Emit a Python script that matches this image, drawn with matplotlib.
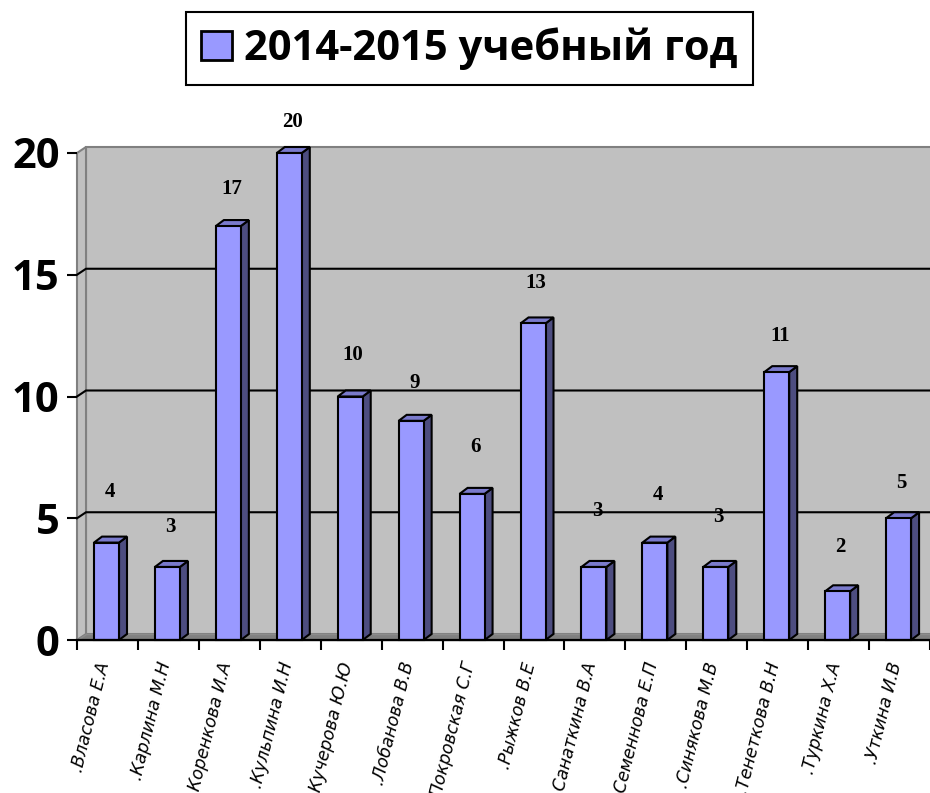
import matplotlib
matplotlib.use("Agg")
import matplotlib.pyplot as plt
from matplotlib.patches import Polygon, Patch

names = [".Власова Е.А", ".Карлина М.Н", ".Коренкова И.А", ".Кульпина И.Н", ".Кучерова Ю.Ю",
         ".Лобанова В.В", ".Покровская С.Г", ".Рыжков В.Е", ".Санаткина В.А", ".Семеннова Е.П",
         ".Синякова М.В", ".Тенеткова В.Н", ".Туркина Х.А", ".Уткина И.В"]
values = [4, 3, 17, 20, 10, 9, 6, 13, 3, 4, 3, 11, 2, 5]
# how far above the bar each label sits, in pixels
label_gap = [51, 40, 37, 31, 42, 38, 47, 40, 56, 48, 50, 36, 44, 35]
yticks = [0, 5, 10, 15, 20]
legend_name = "2014-2015 учебный год"

W, H = 930, 793
fig = plt.figure(figsize=(W / 100, H / 100), dpi=100)
ax = fig.add_axes([77 / W, (H - 640) / H, (W - 77) / W, 487 / H])
n = len(names)
ax.set_xlim(0, n)
ax.set_ylim(0, 20)

px_x = n / (W - 77)
px_y = 20 / 487
wall_dx = 9 * px_x
wall_dy = 6 * px_y
bar_dx = 8 * px_x
bar_dy = 6 * px_y
right = n + 1

wall_grey = "#C0C0C0"
dark_grey = "#808080"
front = "#9999FF"
side = "#4D4D80"
top = "#7A7ACC"

for s in ax.spines.values():
    s.set_visible(False)
ax.patch.set_visible(False)

# walls and floor
ax.add_patch(Polygon([(wall_dx, wall_dy), (right, wall_dy), (right, 20 + wall_dy), (wall_dx, 20 + wall_dy)],
                     fc=wall_grey, ec=dark_grey, lw=1.5, zorder=1, clip_on=False))
ax.add_patch(Polygon([(0, 0), (wall_dx, wall_dy), (wall_dx, 20 + wall_dy), (0, 20)],
                     fc=wall_grey, ec=dark_grey, lw=1.5, zorder=1.1, clip_on=False))
ax.add_patch(Polygon([(0, 0), (right, 0), (right, wall_dy), (wall_dx, wall_dy)],
                     fc=dark_grey, ec="#8C8C8C", lw=1, zorder=1.2, clip_on=False))

# gridlines on the back wall + the short diagonal on the side wall
for t in yticks[1:-1]:
    ax.plot([0, wall_dx, right], [t, t + wall_dy, t + wall_dy], color="black", lw=1.5,
            zorder=1.5, clip_on=False, solid_joinstyle="miter")

# bars
bar_w = 25 * px_x
for i, v in enumerate(values):
    x0 = i + 17 * px_x
    x1 = x0 + bar_w
    ax.bar(x0, v, width=bar_w, align="edge", color=front, edgecolor="black", linewidth=1.5,
           zorder=3, clip_on=False)
    ax.add_patch(Polygon([(x1, 0), (x1 + bar_dx, bar_dy), (x1 + bar_dx, v + bar_dy), (x1, v)],
                         fc=side, ec="black", lw=1.5, zorder=2.9, clip_on=False))
    ax.add_patch(Polygon([(x0, v), (x0 + bar_dx, v + bar_dy), (x1 + bar_dx, v + bar_dy), (x1, v)],
                         fc=top, ec="black", lw=1.5, zorder=2.9, clip_on=False))
    ax.annotate(str(v), (x0 + (bar_w + bar_dx) / 2, v), xytext=(-1, label_gap[i]),
                textcoords="offset pixels", ha="center", va="center", fontsize=15,
                fontweight="bold", family="Liberation Serif", color="black", zorder=5,
                annotation_clip=False)

# axes
ax.plot([0, right], [0, 0], color="black", lw=1.6, zorder=4, clip_on=False)
ax.set_yticks(yticks)
ax.set_yticklabels([str(t) for t in yticks], fontsize=30, fontweight="bold", family="Open Sans")
ax.tick_params(axis="y", length=7.5, width=1.5, pad=5)
ax.set_xticks(range(n + 1))
ax.set_xticklabels([])
ax.tick_params(axis="x", which="major", length=7.5, width=1.5)
ax.set_xticks([i + 0.45 for i in range(n)], minor=True)
ax.set_xticklabels(names, minor=True, rotation=76, ha="right", va="center", rotation_mode="anchor",
                   fontsize=12.3, style="italic", family="DejaVu Sans")
ax.tick_params(axis="x", which="minor", length=0, pad=16)

# legend
handle = Patch(facecolor=front, edgecolor="black", linewidth=2)
leg = fig.legend(handles=[handle], labels=[legend_name], loc="center",
                 bbox_to_anchor=(469.5 / W, (H - 48.5) / H), fancybox=False, framealpha=1,
                 edgecolor="black", handlelength=0.73, handleheight=0.68, handletextpad=0.3,
                 borderpad=0.36, borderaxespad=0,
                 prop={"family": "Open Sans", "weight": "bold", "size": 30})
leg.get_frame().set_linewidth(1.5)

fig.savefig("out.png", dpi=100)
